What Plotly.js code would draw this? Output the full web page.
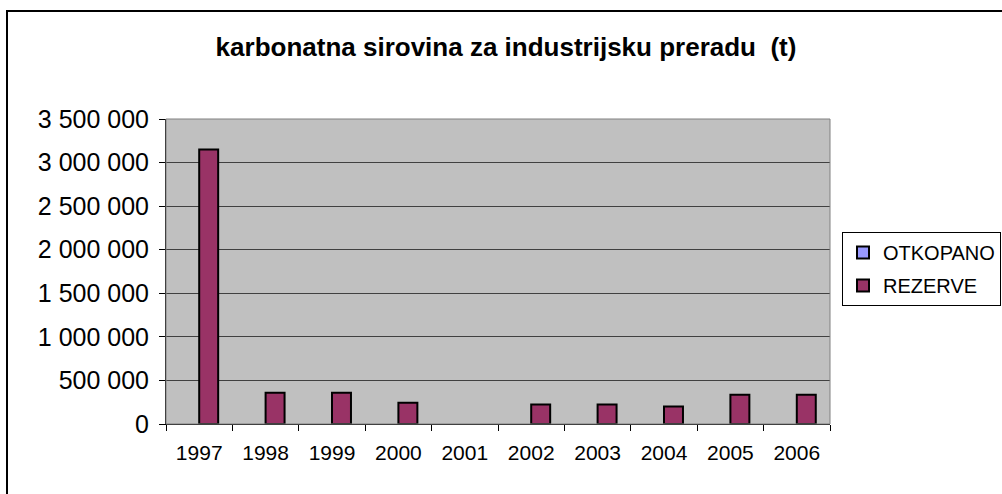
<!DOCTYPE html>
<html><head><meta charset="utf-8">
<script src="https://cdn.plot.ly/plotly-3.0.1.min.js"></script>
<style>html,body{margin:0;padding:0;background:#fff}</style>
</head><body>
<div id="chart" style="width:1002px;height:494px"></div>
<script>
const years = ["1997","1998","1999","2000","2001","2002","2003","2004","2005","2006"];
const otkopano = [null,null,null,null,null,null,null,null,null,null];
const rezerve = [3150000,360000,360000,245000,null,225000,225000,200000,335000,335000];
const yTicks = [0,500000,1000000,1500000,2000000,2500000,3000000,3500000];
const yTickText = ["0","500 000","1 000 000","1 500 000","2 000 000","2 500 000","3 000 000","3 500 000"];

const FONT = "Arial, 'Liberation Sans', sans-serif";
const data = [
  {type:"bar", name:"OTKOPANO", x:years, y:otkopano, legendgroup:"a",
   marker:{color:"#9999FF", line:{color:"#000", width:2}}},
  {type:"bar", name:"REZERVE", x:years, y:rezerve, legendgroup:"b",
   marker:{color:"#993366", line:{color:"#000", width:2}}}
];
const layout = {
  width:1002, height:494,
  margin:{l:166, r:172, t:119, b:70, pad:0, autoexpand:false},
  paper_bgcolor:"#fff", plot_bgcolor:"#C0C0C0",
  font:{family:FONT, color:"#000"},
  title:{text:"<b>karbonatna sirovina za industrijsku preradu  (t)</b>", font:{family:FONT, size:26, color:"#000"},
         x:0.505, xref:"container", xanchor:"center", y:1-47/494, yref:"container", yanchor:"middle"},
  barmode:"group", bargap:0.4286, bargroupgap:0,
  xaxis:{type:"category", tickson:"boundaries", ticks:"outside", ticklen:6, tickcolor:"#000", tickwidth:1,
         showline:true, linecolor:"#000", linewidth:1, showgrid:false, zeroline:false, ticklabelstandoff:10,
         tickfont:{family:FONT, size:21, color:"#000"}},
  yaxis:{range:[0,3500000], tickvals:yTicks, ticktext:yTickText, ticks:"outside", ticklen:6, tickcolor:"#000",
         showline:true, linecolor:"#000", linewidth:1, showgrid:true, gridcolor:"#404040", gridwidth:1,
         zeroline:false, ticklabelstandoff:5, tickfont:{family:FONT, size:25, color:"#000"}},
  showlegend:true,
  legend:{xref:"container", x:842/1002, xanchor:"left", yref:"container", y:1-232/494, yanchor:"top",
          bordercolor:"#000", borderwidth:1, bgcolor:"#fff",
          font:{family:FONT, size:20, color:"#000"}, traceorder:"grouped", tracegroupgap:4},
  shapes:[
    {type:"rect", xref:"paper", yref:"paper", x0:0, x1:1, y0:0, y1:1, line:{color:"#808080", width:1}},
    {type:"rect", xref:"paper", yref:"paper", x0:(7-166)/664, x1:(1100-166)/664, y0:(424-600)/305, y1:(424-11)/305,
     line:{color:"#000", width:2}}
  ]
};
Plotly.newPlot("chart", data, layout, {displayModeBar:false, staticPlot:true});
</script>
</body></html>
